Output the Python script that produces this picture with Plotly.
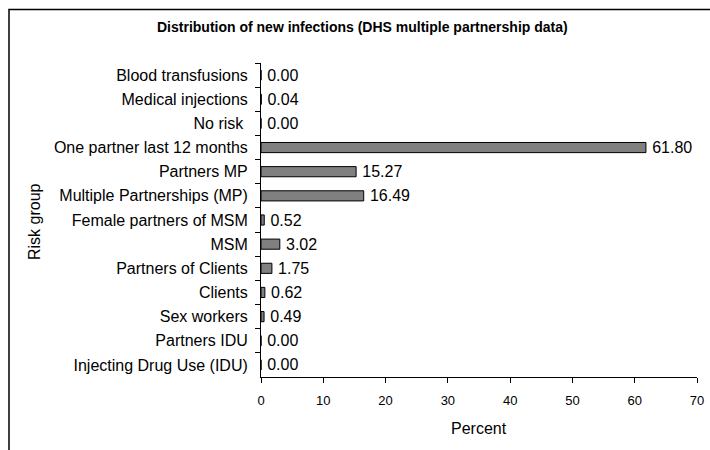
import plotly.graph_objects as go

categories = [
    "Blood transfusions",
    "Medical injections",
    "No risk ",
    "One partner last 12 months",
    "Partners MP",
    "Multiple Partnerships (MP)",
    "Female partners of MSM",
    "MSM",
    "Partners of Clients",
    "Clients",
    "Sex workers",
    "Partners IDU",
    "Injecting Drug Use (IDU)",
]
percent = [0.00, 0.04, 0.00, 61.80, 15.27, 16.49, 0.52, 3.02, 1.75, 0.62, 0.49, 0.00, 0.00]
x_ticks = [0, 10, 20, 30, 40, 50, 60, 70]

title_text = "Distribution of new infections (DHS multiple partnership data)"

W, H = 710, 450
L, R, T, B = 261, 13, 63, 73
pw, ph = W - L - R, H - T - B

font = "Liberation Sans, Arial, sans-serif"

fig = go.Figure(
    go.Bar(
        y=categories,
        x=percent,
        orientation="h",
        marker=dict(color="#808080", line=dict(color="black", width=1)),
        width=0.42,
        text=["\u2009" + f"{v:.2f}" for v in percent],
        textposition="outside",
        constraintext="none",
        textfont=dict(family=font, size=16, color="black"),
        cliponaxis=False,
        hoverinfo="skip",
    )
)

fig.update_layout(
    width=W,
    height=H,
    margin=dict(l=L, r=R, t=T, b=B, pad=0, autoexpand=False),
    paper_bgcolor="white",
    plot_bgcolor="white",
    showlegend=False,
    font=dict(family=font, color="black"),
    xaxis=dict(
        range=[0, 70],
        tickvals=x_ticks,
        ticktext=[str(v) for v in x_ticks],
        showgrid=False,
        zeroline=False,
        showline=True,
        linecolor="black",
        linewidth=1,
        ticks="outside",
        ticklen=5,
        tickcolor="black",
        automargin=False,
        tickfont=dict(size=13, family=font),
        ticklabelstandoff=6,
    ),
    yaxis=dict(
        autorange="reversed",
        showgrid=False,
        zeroline=False,
        showline=True,
        linecolor="black",
        linewidth=1,
        ticks="outside",
        ticklen=5,
        tickcolor="black",
        tickson="boundaries",
        automargin=False,
        tickfont=dict(size=16, family=font),
        ticklabelstandoff=9,
    ),
    shapes=[
        dict(
            type="rect",
            xref="paper",
            yref="paper",
            x0=(9 - L) / pw,
            x1=(W + 20 - L) / pw,
            y0=-(B + 20) / ph,
            y1=1 + (T - 9.5) / ph,
            line=dict(color="black", width=1.5),
            fillcolor="rgba(0,0,0,0)",
            layer="below",
        )
    ],
    annotations=[
        dict(
            text="<b>" + title_text + "</b>",
            xref="paper",
            yref="paper",
            x=(362 - L) / pw,
            y=1 + (T - 27) / ph,
            xanchor="center",
            yanchor="middle",
            showarrow=False,
            font=dict(size=14, family=font),
        ),
        dict(
            text="Percent",
            xref="paper",
            yref="paper",
            x=(479 - L) / pw,
            y=-(428 - (T + ph)) / ph,
            xanchor="center",
            yanchor="middle",
            showarrow=False,
            font=dict(size=16, family=font),
        ),
        dict(
            text="Risk group",
            xref="paper",
            yref="paper",
            x=(34 - L) / pw,
            y=1 - (221 - T) / ph,
            xanchor="center",
            yanchor="middle",
            textangle=-90,
            showarrow=False,
            font=dict(size=16, family=font),
        ),
    ],
)

fig.write_html(
    "out.html",
    config={"displayModeBar": False},
    post_script="document.body.style.margin='0';document.body.style.overflow='hidden';",
)
